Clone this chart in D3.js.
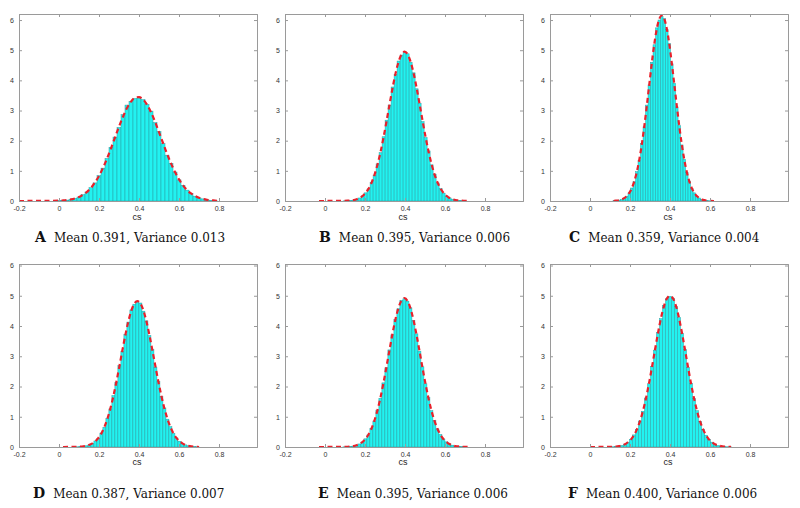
<!DOCTYPE html>
<html><head><meta charset="utf-8">
<script src="https://cdn.jsdelivr.net/npm/d3@7"></script>
<style>body{margin:0;background:#fff}</style>
</head><body>
<script>
// ---- data ----
const labels = ["A","B","C","D","E","F"];
const means = ["0.391","0.395","0.359","0.387","0.395","0.400"];
const variances = ["0.013","0.006","0.004","0.007","0.006","0.006"];
const xTicks = [-0.2, 0, 0.2, 0.4, 0.6, 0.8];
const yTicks = [0, 1, 2, 3, 4, 5, 6];
const binStart = [-0.01, 0.0905, 0.11525, 0.0845, 0.0895, 0.0925];
const binWidth = [0.02, 0.015, 0.0125, 0.015, 0.015, 0.015];
const fitFrom = [-0.2, -0.03, 0.12, 0.02, -0.03, 0.0];
const fitTo = [0.80, 0.72, 0.62, 0.70, 0.72, 0.70];

const barsA = [.01,.02,.03,.05,.09,.13,.21,.30,.44,.60,.84,1.09,1.41,1.78,2.12,2.44,2.86,3.18,3.30,3.40,3.42,3.36,3.20,2.98,2.60,2.30,1.90,1.52,1.25,.96,.70,.52,.36,.25,.16,.10,.07,.04,.02,.01];
const fitA = [.010,.018,.031,.052,.084,.133,.204,.303,.437,.612,.831,1.097,1.404,1.744,2.104,2.461,2.795,3.081,3.296,3.421,3.447,3.370,3.198,2.946,2.633,2.284,1.923,1.571,1.246,.959,.716,.519,.365,.249,.165,.106,.066,.040,.024,.013];

const barsB = [.004,.01,.02,.03,.06,.10,.17,.27,.40,.62,.86,1.23,1.60,2.13,2.68,3.18,3.78,4.20,4.64,4.84,4.92,4.88,4.60,4.25,3.72,3.24,2.63,2.10,1.66,1.20,.89,.60,.41,.26,.17,.10,.06,.03,.02,.01,.004];
const fitB = [.005,.0095,.018,.033,.059,.101,.166,.265,.409,.609,.876,1.217,1.634,2.119,2.654,3.211,3.752,4.236,4.618,4.865,4.95,4.865,4.618,4.236,3.752,3.211,2.654,2.119,1.634,1.217,.876,.609,.409,.265,.166,.101,.059,.033,.018,.0095,.005];

const barsC = [.01,.02,.03,.05,.10,.16,.27,.43,.64,.97,1.35,1.90,2.46,3.18,3.85,4.60,5.18,5.74,6.00,6.12,6.05,5.68,5.22,4.55,3.90,3.12,2.50,1.86,1.38,.95,.66,.42,.27,.16,.10,.05,.03,.015,.008];
const fitC = [.0076,.015,.029,.053,.095,.162,.268,.426,.652,.962,1.369,1.876,2.478,3.154,3.868,4.571,5.204,5.710,6.037,6.15,6.037,5.710,5.204,4.571,3.868,3.154,2.478,1.876,1.369,.962,.652,.426,.268,.162,.095,.053,.029,.015,.0076];

const barsD = [.006,.012,.02,.04,.07,.12,.20,.29,.46,.65,.95,1.26,1.70,2.14,2.69,3.17,3.73,4.13,4.53,4.72,4.80,4.76,4.49,4.17,3.68,3.22,2.64,2.17,1.67,1.29,.92,.67,.45,.30,.19,.12,.07,.04,.02,.01,.006];
const fitD = [.007,.013,.024,.042,.072,.120,.193,.301,.454,.662,.934,1.276,1.687,2.157,2.670,3.198,3.707,4.158,4.514,4.741,4.82,4.741,4.514,4.158,3.707,3.198,2.670,2.157,1.687,1.276,.934,.662,.454,.301,.193,.120,.072,.042,.024,.013,.007];

const barsE = [.005,.01,.02,.03,.06,.10,.16,.27,.40,.61,.86,1.22,1.61,2.12,2.62,3.21,3.71,4.22,4.57,4.85,4.90,4.82,4.60,4.19,3.74,3.17,2.65,2.09,1.63,1.20,.88,.60,.41,.26,.17,.10,.06,.03,.02,.01,.005];
const fitE = [.005,.009,.018,.033,.059,.100,.165,.263,.407,.605,.871,1.210,1.624,2.106,2.638,3.192,3.729,4.211,4.590,4.836,4.92,4.836,4.590,4.211,3.729,3.192,2.638,2.106,1.624,1.210,.871,.605,.407,.263,.165,.100,.059,.033,.018,.009,.005];

const barsF = [.004,.008,.015,.03,.05,.09,.16,.25,.40,.58,.86,1.18,1.62,2.09,2.66,3.20,3.78,4.24,4.67,4.90,4.98,4.92,4.64,4.28,3.75,3.22,2.63,2.11,1.60,1.20,.85,.59,.39,.25,.16,.09,.05,.03,.016,.008,.004];
const fitF = [.004,.008,.016,.030,.054,.094,.157,.252,.392,.590,.854,1.195,1.614,2.104,2.647,3.214,3.769,4.265,4.659,4.912,5.0,4.912,4.659,4.265,3.769,3.214,2.647,2.104,1.614,1.195,.854,.590,.392,.252,.157,.094,.054,.030,.016,.008,.004];

const allBars = [barsA, barsB, barsC, barsD, barsE, barsF];
const allFits = [fitA, fitB, fitC, fitD, fitE, fitF];

// ---- layout ----
const W = 800, H = 508;
const colLeft = [19, 285, 550], colRight = [257, 523, 788];
const rowTop = [14, 264], rowBottom = [201, 447], rowYMax = [6.2, 6.05];
const capX = [35, 319, 569, 33, 318, 568];
const capY = [242, 498], csY = [220, 465];

const svg = d3.select("body").append("svg").attr("width", W).attr("height", H)
  .style("font-family", "'Liberation Sans', Arial, sans-serif");

const fmt = d => d === 0 ? "0" : d3.format(".1f")(d).replace("−", "-");

labels.forEach((lab, p) => {
  const r = Math.floor(p / 3), c = p % 3;
  const x = d3.scaleLinear([-0.2, 0.99], [colLeft[c], colRight[c]]);
  const y = d3.scaleLinear([0, rowYMax[r]], [rowBottom[r], rowTop[r]]);
  const g = svg.append("g");

  const bars = allBars[p].map((v, i) => ({x0: binStart[p] + i * binWidth[p], x1: binStart[p] + (i + 1) * binWidth[p], v}));
  g.append("g").selectAll("rect").data(bars).join("rect")
    .attr("x", d => x(d.x0)).attr("width", d => x(d.x1) - x(d.x0))
    .attr("y", d => y(d.v)).attr("height", d => y(0) - y(d.v))
    .attr("fill", "#22f2f0").attr("stroke", "#2a9fa3").attr("stroke-width", 0.5);

  const fitPts = [[fitFrom[p], 0]].concat(
    allFits[p].map((v, i) => [binStart[p] + (i + 0.5) * binWidth[p], v]),
    [[fitTo[p], 0]]);
  g.append("path").datum(fitPts)
    .attr("d", d3.line().x(d => x(d[0])).y(d => y(d[1])).curve(d3.curveMonotoneX))
    .attr("fill", "none").attr("stroke", "#e8212b").attr("stroke-width", 2.2)
    .attr("stroke-dasharray", "5,3.5");

  // axes
  const style = sel => {
    sel.select(".domain").attr("stroke", "#9a9a9a").attr("stroke-width", 1);
    sel.selectAll(".tick line").attr("stroke", "#9a9a9a");
    sel.selectAll(".tick text").attr("fill", "#333").style("font-size", "7px")
      .style("font-family", "'Liberation Sans', Arial, sans-serif");
  };
  g.append("g").attr("transform", `translate(0,${rowBottom[r]})`)
    .call(d3.axisBottom(x).tickValues(xTicks).tickSize(-3).tickPadding(5).tickFormat(fmt)).call(style);
  g.append("g").attr("transform", `translate(0,${rowTop[r]})`)
    .call(d3.axisTop(x).tickValues(xTicks).tickSize(-3).tickFormat("")).call(style);
  g.append("g").attr("transform", `translate(${colLeft[c]},0)`)
    .call(d3.axisLeft(y).tickValues(yTicks).tickSize(-3).tickPadding(5).tickFormat(d3.format("d"))).call(style);
  g.append("g").attr("transform", `translate(${colRight[c]},0)`)
    .call(d3.axisRight(y).tickValues(yTicks).tickSize(-3).tickFormat("")).call(style);

  g.append("text").attr("x", (colLeft[c] + colRight[c]) / 2 - 1).attr("y", csY[r])
    .attr("text-anchor", "middle").style("font-size", "9px").attr("fill", "#222").text("cs");

  const cap = g.append("text").attr("x", capX[p]).attr("y", capY[r])
    .style("font-family", "'DejaVu Serif', 'Liberation Serif', serif").attr("fill", "#111");
  cap.append("tspan").style("font-weight", "bold").style("font-size", "14px").text(lab);
  cap.append("tspan").attr("dx", 8).style("font-size", "12px")
    .text(`Mean ${means[p]}, Variance ${variances[p]}`);
});
</script>
</body></html>
